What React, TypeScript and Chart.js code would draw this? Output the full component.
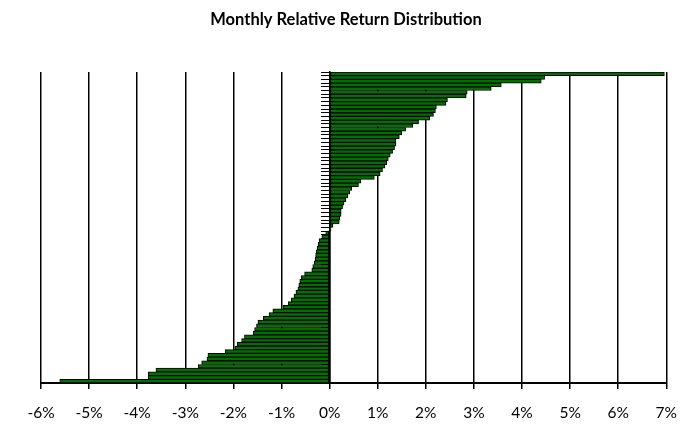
import React, { useEffect, useRef } from "react";
import { Chart, registerables } from "chart.js";

Chart.register(...registerables);

const TITLE = "Monthly Relative Return Distribution";

// x-axis range in percent
const X_MIN = -6;
const X_MAX = 7;
const X_STEP = 1;

// Monthly relative returns (%), sorted from highest (top) to lowest (bottom)
const returns: number[] = [
  6.96, 4.47, 4.4, 3.57, 3.36, 2.86, 2.84, 2.45, 2.42, 2.22,
  2.2, 2.16, 2.08, 1.85, 1.73, 1.58, 1.5, 1.45, 1.38, 1.38,
  1.35, 1.31, 1.26, 1.22, 1.19, 1.15, 1.1, 1.05, 0.93, 0.65,
  0.6, 0.46, 0.42, 0.38, 0.34, 0.3, 0.27, 0.24, 0.24, 0.21,
  0.2, 0.07, 0.03, -0.08, -0.16, -0.22, -0.24, -0.26, -0.28, -0.29,
  -0.3, -0.32, -0.35, -0.37, -0.52, -0.59, -0.62, -0.64, -0.66, -0.7,
  -0.74, -0.8, -0.86, -0.97, -1.18, -1.26, -1.38, -1.49, -1.52, -1.56,
  -1.59, -1.77, -1.83, -1.92, -1.97, -2.17, -2.53, -2.55, -2.66, -2.73,
  -3.61, -3.77, -3.77, -5.61,
];

// category labels (one per month, not displayed)
const months: string[] = returns.map((_, i) => String(i + 1));

// Title centred on the whole canvas (not just the plot area)
const canvasTitle = {
  id: "canvasTitle",
  afterDraw(chart: any) {
    const ctx = chart.ctx;
    ctx.save();
    ctx.fillStyle = "#000";
    ctx.font = "bold 16.5px Lato";
    ctx.textAlign = "center";
    ctx.textBaseline = "middle";
    ctx.fillText(TITLE, chart.width / 2, 20);
    ctx.restore();
  },
};

export default function App() {
  const canvasRef = useRef<HTMLCanvasElement | null>(null);

  useEffect(() => {
    const canvas = canvasRef.current;
    if (!canvas) return;
    const chart = new Chart(canvas, {
      type: "bar",
      data: {
        labels: months,
        datasets: [
          {
            data: returns,
            backgroundColor: "#007000",
            borderColor: "#000000",
            borderWidth: 1,
            borderSkipped: false,
            barPercentage: 1,
            categoryPercentage: 1,
          },
        ],
      },
      options: {
        indexAxis: "y",
        animation: false,
        responsive: false,
        layout: { padding: { left: 41, right: 25, top: 72, bottom: 0 } },
        plugins: {
          legend: { display: false },
          tooltip: { enabled: false },
          title: { display: false },
        },
        scales: {
          x: {
            type: "linear",
            min: X_MIN,
            max: X_MAX,
            afterFit: (scale: any) => {
              scale.height = 50;
            },
            ticks: {
              stepSize: X_STEP,
              callback: (v: any) => `${v}%`,
              color: "#000",
              font: { family: "Lato", size: 15.5 },
              padding: 15,
              maxRotation: 0,
              autoSkip: false,
            },
            grid: {
              color: "#000",
              lineWidth: 1.5,
              drawTicks: true,
              tickLength: 6,
              tickColor: "#000",
            },
            border: { display: true, color: "#000", width: 2 },
          },
          y: {
            type: "category",
            position: { x: 0 } as any,
            ticks: { display: false },
            grid: {
              drawOnChartArea: false,
              drawTicks: true,
              tickLength: 8,
              color: "#000",
              lineWidth: 1,
            },
            border: { display: true, color: "#000", width: 1.5 },
          },
        },
      } as any,
      plugins: [canvasTitle],
    });
    return () => chart.destroy();
  }, []);

  return (
    <div style={{ position: "absolute", left: 0, top: 0, width: 692, height: 433, background: "#fff" }}>
      <canvas ref={canvasRef} width={692} height={433} />
    </div>
  );
}
